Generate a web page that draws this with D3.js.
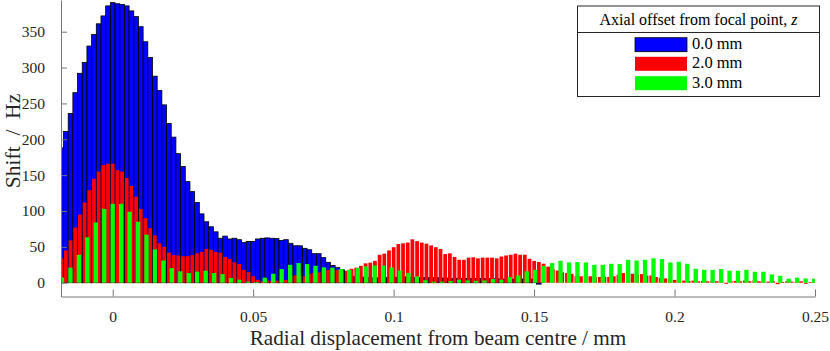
<!DOCTYPE html>
<html><head><meta charset="utf-8">
<script src="https://cdn.jsdelivr.net/npm/d3@7"></script>
<style>body{margin:0;background:#fff}svg{display:block}</style>
</head><body>
<svg id="chart" width="830" height="351"></svg>
<script>
// ---------- data ----------
const xDomain = [-0.0184, 0.25];
const yDomain = [-19.2, 394.2];
const xTicks = [0, 0.05, 0.1, 0.15, 0.2, 0.25];
const xTickLabels = ["0", "0.05", "0.1", "0.15", "0.2", "0.25"];
const yTicks = [0, 50, 100, 150, 200, 250, 300, 350];
const yTickLabels = ["0", "50", "100", "150", "200", "250", "300", "350"];

// bin spacing (mm) and index of first bin for each series
const fineStep = 0.001667;   // 0.0 mm and 2.0 mm series
const coarseStep = 0.003008; // 3.0 mm series
const blueFirstIndex = -11;
const redFirstIndex = -11;
const greenFirstIndex = -6;

const seriesNames = ["0.0 mm", "2.0 mm", "3.0 mm"];
const seriesColors = ["#0000ff", "#ff0000", "#00ff00"];
const legendTitle = "Axial offset from focal point, ";
const legendTitleVar = "z";
const xLabel = "Radial displacement from beam centre / mm";
const yLabel = "Shift\u2002/\u2002Hz";

const blueValues = [
  188, 211, 236, 265, 292, 307, 330, 346, 361, 372, 386,
  390.5, 389, 388, 386, 379, 371, 357, 336, 314, 288, 268, 248, 222, 203, 180,
  162, 141, 127, 112, 96, 85, 78, 71, 62, 65, 61, 62, 60, 56, 57.5, 57.5, 61,
  62, 62.5, 62, 61.5, 59, 60, 55, 51.5, 51.5, 48, 46, 40.5, 40.5, 35, 28.5, 24,
  21, 18, 16,
  9, 8, 8, 7, 7, 6.5, 6.5, 7, 7, 7, 7.5, 8, 8, 7.5, 7.5, 7, 7, 7, 7, 6.5,
  6.5, 6, 6, 6, 6, 6, 6, 6, 6, 5.5, 5.5, 5.5, 5, 5, 5, 5, 5, 5, 5, 5, -2
];

const redValues = [
  34, 45, 59, 77, 95, 112, 129, 145, 155, 164, 166,
  166, 157, 155, 146, 135, 120, 103, 90, 76, 66, 55, 50, 42, 38.5, 38, 37, 37,
  38.5, 41, 43, 47, 46, 43, 42, 36, 33, 28.5, 26, 18, 15, 9, 4, 2, 3, 2, 3, 5,
  4, 9, 10.5, 10, 9, 12.5, 13.5, 14.5, 17, 18, 18, 18, 17, 16.5, 19.5, 21,
  23.5, 27, 28, 30.5, 39, 40.5, 45, 49.5, 54, 55, 56, 60.5, 58, 56, 54.5, 52,
  49.5, 47, 40, 41, 36, 32, 32, 35, 35.5, 34, 35, 35, 35, 34, 36.5, 38, 39,
  40.5, 39, 39, 33.5, 30.5, 29, 26.5, 22.5, 19, 17, 14.5, 13.5, 12.5, 9, 9,
  9.5, 9, 8, 8, 8.5, 8, 9, 11, 13.5, 12, 12.5, 11, 12, 10, 10, 8, 7, 6, 5.5,
  4, 3, 3, 2.5, 3, 2, 2.5, 2, 3, 2, 3, -1.5, 2, 2.5, 2, 3, 2, 3, 2, 2, 1.5,
  2, -2, 1, 2, 1.5, 1, 2, -1.5, 1, 1
];

const greenValues = [
  7.4, 21, 39, 63.5, 84, 103,
  110, 110, 99, 85, 67, 46.5, 31, 20.4, 15.8, 13.5, 15.5, 16.7, 13.5, 12, 6.5,
  4.2, 1.5, 1, 7, 12.5, 19, 25, 27.4, 26, 23.6, 21.5, 21, 19, 18, 20.4, 22.7,
  24, 24, 21.3, 17, 13.5, 8.8, 3.5, 1.5, 1.5, 2.4, 4.2, 3.2, 2.8, 3.2, 5, 4.2,
  7.9, 10.2, 15.8, 18, 23.6, 27.4, 30.6, 28.3, 28.8, 28.3, 25, 25, 26.4, 26,
  32, 31, 32, 34, 33, 28.3, 29.2, 26.4, 19.5, 18, 18, 19, 16.7, 16.7, 18, 15.3,
  15.3, 11.6, 9.7, 5.6, 7, 6, 5.6
];

// ---------- layout ----------
const plot = {left: 61, right: 815, top: 0, bottom: 296.5};
const FONT = "'Liberation Serif', 'Times New Roman', serif";
const AXIS_COLOR = "#777";

const svg = d3.select("#chart");
const x = d3.scaleLinear().domain(xDomain).range([plot.left, plot.right]);
const y = d3.scaleLinear().domain(yDomain).range([plot.bottom, plot.top]);

svg.append("defs").append("clipPath").attr("id", "plotClip")
  .append("rect").attr("x", plot.left).attr("y", plot.top)
  .attr("width", plot.right - plot.left).attr("height", plot.bottom - plot.top);

function toBins(values, firstIndex, step) {
  return values.map((v, i) => ({x: (firstIndex + i) * step, v}));
}
const blueBins = toBins(blueValues, blueFirstIndex, fineStep);
const redBins = toBins(redValues, redFirstIndex, fineStep);
const greenBins = toBins(greenValues, greenFirstIndex, coarseStep);

const bars = svg.append("g").attr("clip-path", "url(#plotClip)");

function drawBars(bins, step, widthFrac, fill, stroke, sw) {
  const w = x(step * widthFrac) - x(0);
  bars.append("g").selectAll("rect").data(bins).join("rect")
    .attr("x", d => x(d.x) - w / 2)
    .attr("width", w)
    .attr("y", d => Math.min(y(d.v), y(0)))
    .attr("height", d => Math.abs(y(d.v) - y(0)))
    .attr("fill", fill)
    .attr("stroke", stroke)
    .attr("stroke-width", sw);
}
drawBars(blueBins, fineStep, 1.0, seriesColors[0], "#000", 0.8);
drawBars(redBins, fineStep, 0.8, seriesColors[1], "none", 0);
drawBars(greenBins, coarseStep, 0.51, seriesColors[2], "none", 0);

// ---------- axes ----------
const xAxis = d3.axisBottom(x).tickValues(xTicks)
  .tickFormat((d, i) => xTickLabels[i]).tickSizeInner(-7).tickSizeOuter(0).tickPadding(14);
const gx = svg.append("g").attr("transform", `translate(0,${plot.bottom})`).call(xAxis);

const yAxis = d3.axisLeft(y).tickValues(yTicks)
  .tickFormat((d, i) => yTickLabels[i]).tickSizeInner(-6).tickSizeOuter(0).tickPadding(16);
const gy = svg.append("g").attr("transform", `translate(${plot.left},0)`).call(yAxis);

[gx, gy].forEach(g => {
  g.select(".domain").attr("stroke", AXIS_COLOR).attr("stroke-width", 1);
  g.selectAll(".tick line").attr("stroke", AXIS_COLOR).attr("stroke-width", 1);
  g.selectAll(".tick text").attr("fill", "#262626")
    .style("font-family", FONT).style("font-size", "15.5px");
});
gx.selectAll(".tick text").attr("dy", "0.71em");

svg.append("text")
  .attr("x", (plot.left + plot.right) / 2).attr("y", 345)
  .attr("text-anchor", "middle")
  .style("font-family", FONT).style("font-size", "21.2px").attr("fill", "#262626")
  .text(xLabel);

svg.append("text")
  .attr("transform", "translate(20,141) rotate(-90)")
  .attr("text-anchor", "middle")
  .style("font-family", FONT).style("font-size", "21.5px").attr("fill", "#262626")
  .text(yLabel);

// ---------- legend ----------
const lg = svg.append("g");
const L = {x0: 577.5, x1: 819.5, y0: 6, y1: 96.5, sep: 32.5};
lg.append("rect").attr("x", L.x0).attr("y", L.y0)
  .attr("width", L.x1 - L.x0).attr("height", L.y1 - L.y0)
  .attr("fill", "#fff").attr("stroke", "#262626").attr("stroke-width", 1);
lg.append("line").attr("x1", L.x0).attr("x2", L.x1).attr("y1", L.sep).attr("y2", L.sep)
  .attr("stroke", "#262626").attr("stroke-width", 1);
const title = lg.append("text").attr("x", (L.x0 + L.x1) / 2).attr("y", 25)
  .attr("text-anchor", "middle")
  .style("font-family", FONT).style("font-size", "16px").attr("fill", "#000");
title.append("tspan").text(legendTitle);
title.append("tspan").style("font-style", "italic").text(legendTitleVar);

const rowY = [37.7, 56.8, 76.2];
seriesNames.forEach((name, i) => {
  lg.append("rect").attr("x", 635).attr("y", rowY[i]).attr("width", 52).attr("height", 14)
    .attr("fill", seriesColors[i])
    .attr("stroke", i === 0 ? "#000" : "none").attr("stroke-width", 0.8);
  lg.append("text").attr("x", 692).attr("y", rowY[i] + 11.5)
    .style("font-family", FONT).style("font-size", "16.5px").attr("fill", "#000")
    .text(name);
});
</script>
</body></html>
